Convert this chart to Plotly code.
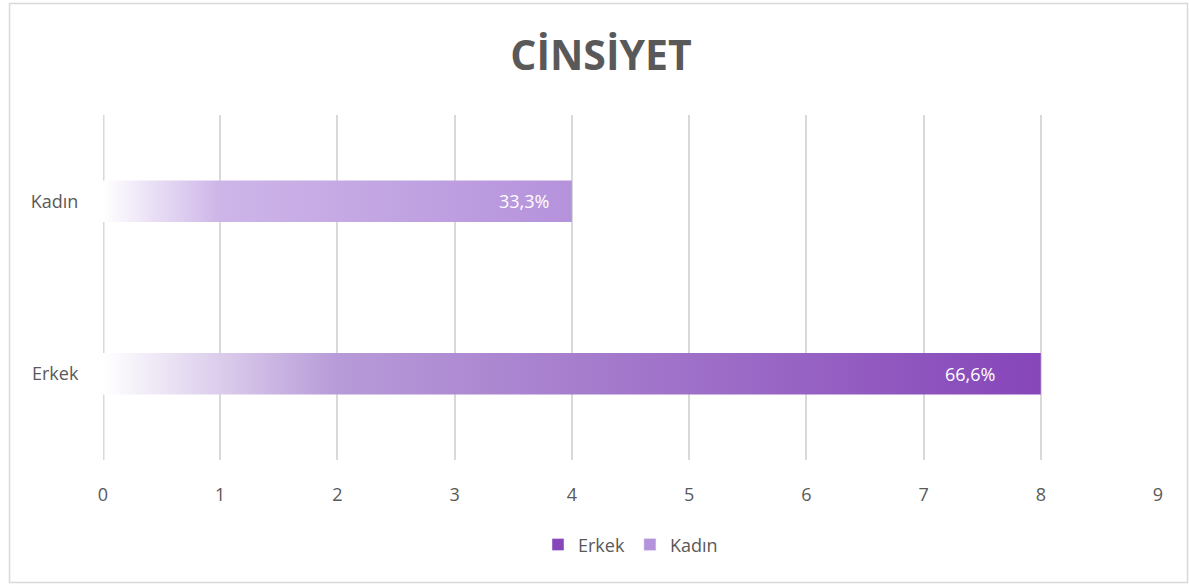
import plotly.graph_objects as go

categories = ["Erkek", "Kadın"]
values = [8, 4]
labels = ["66,6%", "33,3%"]
end_colors = ["#8646b9", "#b592dc"]
mid_colors = ["#b79ad8", "#cdb5e8"]
x_ticks = list(range(0, 10))

BAR_HALF = 0.12
fig = go.Figure()

for i, (cat, val, col, mid) in enumerate(zip(categories, values, end_colors, mid_colors)):
    xs = [0, val, val, 0, 0]
    ys = [i - BAR_HALF, i - BAR_HALF, i + BAR_HALF, i + BAR_HALF, i - BAR_HALF]
    fig.add_trace(go.Scatter(
        x=xs, y=ys, mode="lines", fill="toself",
        line=dict(width=0, color=col),
        fillgradient=dict(type="horizontal",
                          colorscale=[[0, "#ffffff"], [0.25, mid], [1, col]]),
        name=cat, showlegend=False, hoverinfo="skip"))

# legend entries
for cat, col in zip(categories, end_colors):
    fig.add_trace(go.Bar(x=[None], y=[None], orientation="h", name=cat,
                         marker=dict(color=col)))

label_shift = [-44, -21]
for i, (val, lab) in enumerate(zip(values, labels)):
    fig.add_annotation(x=val, y=i, text=lab, xanchor="right", showarrow=False,
                       xshift=label_shift[i],
                       font=dict(family="Open Sans", size=18, color="#ffffff"))

fig.add_shape(type="rect", xref="paper", yref="paper",
              x0=-0.0886, x1=1.028, y0=-0.355, y1=1.3232,
              line=dict(color="#d9d9d9", width=1.5), fillcolor="rgba(0,0,0,0)",
              layer="below")

fig.update_layout(
    width=1189, height=585,
    margin=dict(l=103, r=31, t=115, b=125),
    paper_bgcolor="#ffffff", plot_bgcolor="#ffffff",
    title=dict(text="<b>CİNSİYET</b>", x=0.5055, xanchor="center",
               y=0.905, yanchor="middle",
               font=dict(family="Open Sans", size=41, color="#595959")),
    font=dict(family="Open Sans", size=16, color="#595959"),
    showlegend=True,
    legend=dict(orientation="h", x=0.5, xanchor="center", y=-0.246, yanchor="middle",
                font=dict(size=18, color="#595959"), traceorder="normal",
                itemwidth=30),
    xaxis=dict(range=[0, 9], tickvals=x_ticks, showgrid=True, gridcolor="#d9d9d9",
               gridwidth=1.5, zeroline=False, showline=False,
               ticks="outside", ticklen=18, tickcolor="rgba(0,0,0,0)",
               tickfont=dict(size=18, color="#595959"), fixedrange=True),
    yaxis=dict(range=[-0.5, 1.5], tickvals=[0, 1], ticktext=categories,
               showgrid=False, zeroline=False, showline=False,
               ticks="outside", ticklen=20, tickcolor="rgba(0,0,0,0)",
               tickfont=dict(size=18, color="#595959"), fixedrange=True),
)

fig.add_shape(type="line", xref="x", yref="paper", x0=0, x1=0, y0=0, y1=1,
              line=dict(color="#d9d9d9", width=3), layer="below")

fig.write_html("out.html", config={"displayModeBar": False},
               post_script="document.body.style.margin='0';document.body.style.padding='0';")
